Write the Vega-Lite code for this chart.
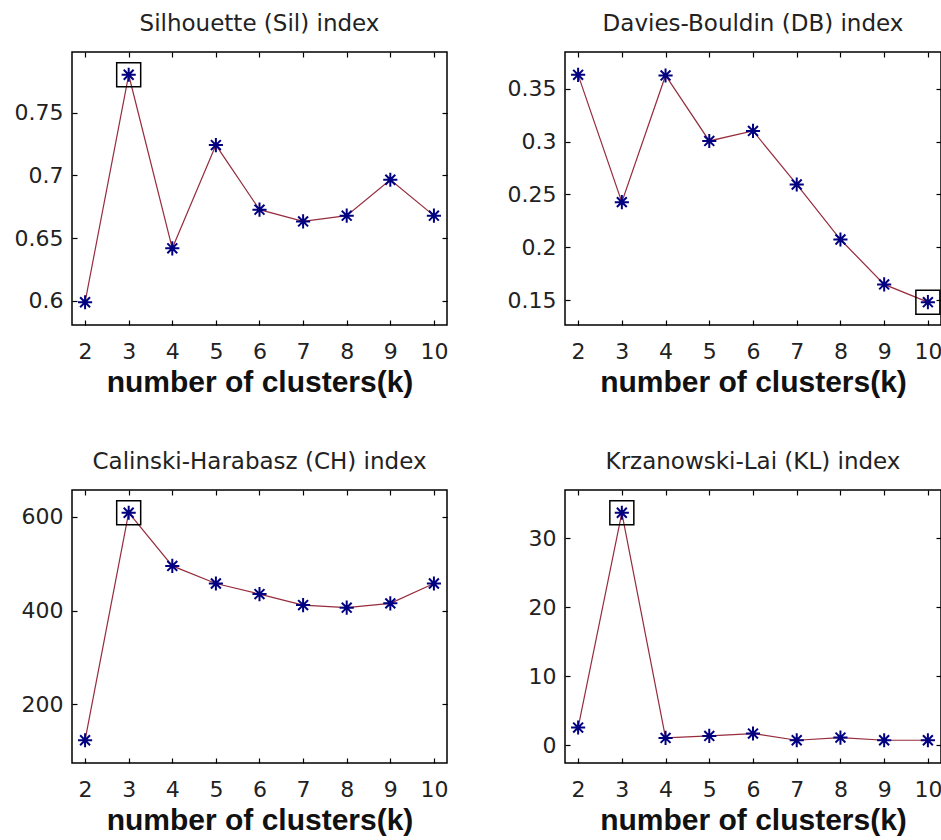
{
  "$schema": "https://vega.github.io/schema/vega-lite/v6.json",
  "background": "white",
  "padding": {"left": 13, "top": 12, "right": 0, "bottom": 0},
  "config": {
    "font": "DejaVu Sans",
    "view": {"stroke": "black", "strokeWidth": 1.5},
    "title": {"fontSize": 23, "fontWeight": "normal", "color": "#222222", "offset": 15, "baseline": "alphabetic", "font": "DejaVu Sans"},
    "axis": {
      "domain": false,
      "grid": false,
      "tickColor": "black",
      "tickSize": -5,
      "tickWidth": 1.2,
      "labelFont": "DejaVu Sans",
      "labelFontSize": 22,
      "labelColor": "#222222",
      "format": "~r",
      "titleFont": "Liberation Sans",
      "titleFontSize": 30,
      "titleFontWeight": "bold",
      "titleColor": "#111111"
    },
    "axisX": {"labelPadding": 21},
    "axisY": {"labelPadding": 14}
  },
  "datasets": {
    "scores": [
      {"index": "Sil", "k": 2, "value": 0.5987, "best": false},
      {"index": "Sil", "k": 3, "value": 0.7805, "best": true},
      {"index": "Sil", "k": 4, "value": 0.6418, "best": false},
      {"index": "Sil", "k": 5, "value": 0.7243, "best": false},
      {"index": "Sil", "k": 6, "value": 0.6727, "best": false},
      {"index": "Sil", "k": 7, "value": 0.6633, "best": false},
      {"index": "Sil", "k": 8, "value": 0.6679, "best": false},
      {"index": "Sil", "k": 9, "value": 0.6966, "best": false},
      {"index": "Sil", "k": 10, "value": 0.6679, "best": false},
      {"index": "DB", "k": 2, "value": 0.3632, "best": false},
      {"index": "DB", "k": 3, "value": 0.2427, "best": false},
      {"index": "DB", "k": 4, "value": 0.3626, "best": false},
      {"index": "DB", "k": 5, "value": 0.3006, "best": false},
      {"index": "DB", "k": 6, "value": 0.3101, "best": false},
      {"index": "DB", "k": 7, "value": 0.2594, "best": false},
      {"index": "DB", "k": 8, "value": 0.2073, "best": false},
      {"index": "DB", "k": 9, "value": 0.1648, "best": false},
      {"index": "DB", "k": 10, "value": 0.148, "best": true},
      {"index": "CH", "k": 2, "value": 123.6, "best": false},
      {"index": "CH", "k": 3, "value": 609, "best": true},
      {"index": "CH", "k": 4, "value": 495.5, "best": false},
      {"index": "CH", "k": 5, "value": 458, "best": false},
      {"index": "CH", "k": 6, "value": 435.4, "best": false},
      {"index": "CH", "k": 7, "value": 412, "best": false},
      {"index": "CH", "k": 8, "value": 406.4, "best": false},
      {"index": "CH", "k": 9, "value": 415.6, "best": false},
      {"index": "CH", "k": 10, "value": 458, "best": false},
      {"index": "KL", "k": 2, "value": 2.56, "best": false},
      {"index": "KL", "k": 3, "value": 33.7, "best": true},
      {"index": "KL", "k": 4, "value": 1.06, "best": false},
      {"index": "KL", "k": 5, "value": 1.35, "best": false},
      {"index": "KL", "k": 6, "value": 1.69, "best": false},
      {"index": "KL", "k": 7, "value": 0.72, "best": false},
      {"index": "KL", "k": 8, "value": 1.1, "best": false},
      {"index": "KL", "k": 9, "value": 0.72, "best": false},
      {"index": "KL", "k": 10, "value": 0.72, "best": false}
    ]
  },
  "data": {"name": "scores"},
  "columns": 2,
  "bounds": "flush",
  "spacing": {"row": 165, "column": 118},
  "concat": [
    {
      "title": "Silhouette (Sil) index",
      "width": 375,
      "height": 273,
      "transform": [{"filter": "datum.index === 'Sil'"}],
      "layer": [
        {
          "mark": {"type": "line", "color": "#962c3e", "strokeWidth": 1.2},
          "encoding": {
            "x": {"field": "k", "type": "quantitative", "scale": {"domain": [1.7, 10.3], "nice": false, "zero": false}, "axis": {"values": [2, 3, 4, 5, 6, 7, 8, 9, 10], "title": "number of clusters(k)", "titlePadding": 5}},
            "y": {"field": "value", "type": "quantitative", "scale": {"domain": [0.5805, 0.7987], "nice": false, "zero": false}, "axis": {"values": [0.6, 0.65, 0.7, 0.75], "title": null}}
          }
        },
        {
          "mark": {"type": "point", "shape": "M-1,0L1,0M0,-1L0,1M-0.7,-0.7L0.7,0.7M-0.7,0.7L0.7,-0.7", "size": 200, "filled": false, "stroke": "#000080", "strokeWidth": 2, "opacity": 1},
          "encoding": {
            "x": {"field": "k", "type": "quantitative", "axis": null},
            "y": {"field": "value", "type": "quantitative", "axis": null}
          }
        },
        {
          "transform": [{"filter": "datum.best"}],
          "mark": {"type": "point", "shape": "square", "size": 576, "filled": false, "stroke": "black", "strokeWidth": 1.5, "opacity": 1},
          "encoding": {
            "x": {"field": "k", "type": "quantitative", "axis": {"orient": "top", "values": [2, 3, 4, 5, 6, 7, 8, 9, 10], "labels": false, "title": null}},
            "y": {"field": "value", "type": "quantitative", "axis": {"orient": "right", "values": [0.6, 0.65, 0.7, 0.75], "labels": false, "title": null}}
          }
        }
      ],
      "resolve": {"axis": {"x": "independent", "y": "independent"}}
    },
    {
      "title": "Davies-Bouldin (DB) index",
      "width": 376,
      "height": 273,
      "transform": [{"filter": "datum.index === 'DB'"}],
      "layer": [
        {
          "mark": {"type": "line", "color": "#962c3e", "strokeWidth": 1.2},
          "encoding": {
            "x": {"field": "k", "type": "quantitative", "scale": {"domain": [1.7, 10.3], "nice": false, "zero": false}, "axis": {"values": [2, 3, 4, 5, 6, 7, 8, 9, 10], "title": "number of clusters(k)", "titlePadding": 5}},
            "y": {"field": "value", "type": "quantitative", "scale": {"domain": [0.1264, 0.3848], "nice": false, "zero": false}, "axis": {"values": [0.15, 0.2, 0.25, 0.3, 0.35], "title": null}}
          }
        },
        {
          "mark": {"type": "point", "shape": "M-1,0L1,0M0,-1L0,1M-0.7,-0.7L0.7,0.7M-0.7,0.7L0.7,-0.7", "size": 200, "filled": false, "stroke": "#000080", "strokeWidth": 2, "opacity": 1},
          "encoding": {
            "x": {"field": "k", "type": "quantitative", "axis": null},
            "y": {"field": "value", "type": "quantitative", "axis": null}
          }
        },
        {
          "transform": [{"filter": "datum.best"}],
          "mark": {"type": "point", "shape": "square", "size": 576, "filled": false, "stroke": "black", "strokeWidth": 1.5, "opacity": 1},
          "encoding": {
            "x": {"field": "k", "type": "quantitative", "axis": {"orient": "top", "values": [2, 3, 4, 5, 6, 7, 8, 9, 10], "labels": false, "title": null}},
            "y": {"field": "value", "type": "quantitative", "axis": {"orient": "right", "values": [0.15, 0.2, 0.25, 0.3, 0.35], "labels": false, "title": null}}
          }
        }
      ],
      "resolve": {"axis": {"x": "independent", "y": "independent"}}
    },
    {
      "title": "Calinski-Harabasz (CH) index",
      "width": 375,
      "height": 273,
      "transform": [{"filter": "datum.index === 'CH'"}],
      "layer": [
        {
          "mark": {"type": "line", "color": "#962c3e", "strokeWidth": 1.2},
          "encoding": {
            "x": {"field": "k", "type": "quantitative", "scale": {"domain": [1.7, 10.3], "nice": false, "zero": false}, "axis": {"values": [2, 3, 4, 5, 6, 7, 8, 9, 10], "title": "number of clusters(k)", "titlePadding": 5}},
            "y": {"field": "value", "type": "quantitative", "scale": {"domain": [75, 657.5], "nice": false, "zero": false}, "axis": {"values": [200, 400, 600], "title": null}}
          }
        },
        {
          "mark": {"type": "point", "shape": "M-1,0L1,0M0,-1L0,1M-0.7,-0.7L0.7,0.7M-0.7,0.7L0.7,-0.7", "size": 200, "filled": false, "stroke": "#000080", "strokeWidth": 2, "opacity": 1},
          "encoding": {
            "x": {"field": "k", "type": "quantitative", "axis": null},
            "y": {"field": "value", "type": "quantitative", "axis": null}
          }
        },
        {
          "transform": [{"filter": "datum.best"}],
          "mark": {"type": "point", "shape": "square", "size": 576, "filled": false, "stroke": "black", "strokeWidth": 1.5, "opacity": 1},
          "encoding": {
            "x": {"field": "k", "type": "quantitative", "axis": {"orient": "top", "values": [2, 3, 4, 5, 6, 7, 8, 9, 10], "labels": false, "title": null}},
            "y": {"field": "value", "type": "quantitative", "axis": {"orient": "right", "values": [200, 400, 600], "labels": false, "title": null}}
          }
        }
      ],
      "resolve": {"axis": {"x": "independent", "y": "independent"}}
    },
    {
      "title": "Krzanowski-Lai (KL) index",
      "width": 376,
      "height": 273,
      "transform": [{"filter": "datum.index === 'KL'"}],
      "layer": [
        {
          "mark": {"type": "line", "color": "#962c3e", "strokeWidth": 1.2},
          "encoding": {
            "x": {"field": "k", "type": "quantitative", "scale": {"domain": [1.7, 10.3], "nice": false, "zero": false}, "axis": {"values": [2, 3, 4, 5, 6, 7, 8, 9, 10], "title": "number of clusters(k)", "titlePadding": 5}},
            "y": {"field": "value", "type": "quantitative", "scale": {"domain": [-2.58, 37.0], "nice": false, "zero": false}, "axis": {"values": [0, 10, 20, 30], "title": null}}
          }
        },
        {
          "mark": {"type": "point", "shape": "M-1,0L1,0M0,-1L0,1M-0.7,-0.7L0.7,0.7M-0.7,0.7L0.7,-0.7", "size": 200, "filled": false, "stroke": "#000080", "strokeWidth": 2, "opacity": 1},
          "encoding": {
            "x": {"field": "k", "type": "quantitative", "axis": null},
            "y": {"field": "value", "type": "quantitative", "axis": null}
          }
        },
        {
          "transform": [{"filter": "datum.best"}],
          "mark": {"type": "point", "shape": "square", "size": 576, "filled": false, "stroke": "black", "strokeWidth": 1.5, "opacity": 1},
          "encoding": {
            "x": {"field": "k", "type": "quantitative", "axis": {"orient": "top", "values": [2, 3, 4, 5, 6, 7, 8, 9, 10], "labels": false, "title": null}},
            "y": {"field": "value", "type": "quantitative", "axis": {"orient": "right", "values": [0, 10, 20, 30], "labels": false, "title": null}}
          }
        }
      ],
      "resolve": {"axis": {"x": "independent", "y": "independent"}}
    }
  ]
}
